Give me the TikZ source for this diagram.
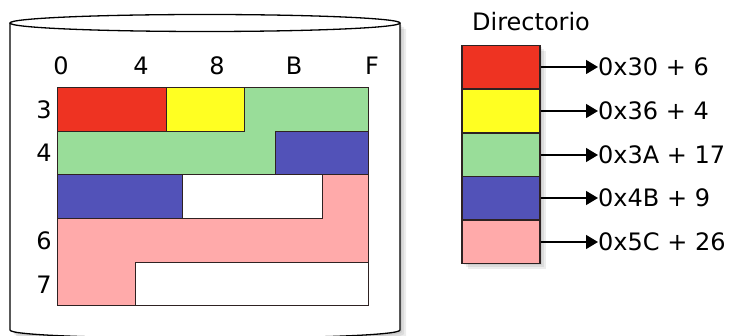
\documentclass[tikz,border=0pt]{standalone}
\usepackage{fontspec}
\setmainfont{DejaVu Sans}
\usetikzlibrary{arrows.meta}
\definecolor{cred}{HTML}{EE3322}
\definecolor{cyel}{HTML}{FFFF22}
\definecolor{cgrn}{HTML}{99DD99}
\definecolor{cblu}{HTML}{5252B8}
\definecolor{cpnk}{HTML}{FFAAAA}
\definecolor{edge}{HTML}{2E2222}
\begin{document}
\begin{tikzpicture}[x=1pt,y=-1pt,
  region/.style={draw=edge, line width=1pt, line join=miter},
  cell/.style={draw=edge, line width=1.2pt, minimum width=78pt, minimum height=43.6pt, inner sep=0pt},
  lbl/.style={font=\fontsize{24}{26}\selectfont, inner sep=0pt},
  ptr/.style={draw=black, line width=1.2pt, -{Triangle[length=12pt,width=14pt]}},
  shadowfill/.style={fill=black, opacity=0.07}]
\useasboundingbox (0,0) rectangle (732,336);
% cylinder shadow
\foreach \d in {2,4,6}{
  \fill[shadowfill] (10+\d,23+\d) -- (10+\d,330+\d) .. controls (10+\d,341+\d) and (400+\d,341+\d) .. (400+\d,330+\d) -- (400+\d,23+\d) -- cycle;
}
% cylinder body
\filldraw[fill=white, draw=black, line width=1.3pt] (10,23) -- (10,330) .. controls (10,341) and (400,341) .. (400,330) -- (400,23);
\draw[fill=white, line width=1.3pt] (205,23) ellipse [x radius=195, y radius=8.5];
% grid regions
\filldraw[region, fill=cred] (57,88) rectangle (166,132);
\filldraw[region, fill=cyel] (166,88) rectangle (244,132);
\filldraw[region, fill=cgrn] (244,88) -- (368,88) -- (368,132) -- (275,132) -- (275,175) -- (57,175) -- (57,132) -- (244,132) -- cycle;
\filldraw[region, fill=cblu] (275,132) rectangle (368,175);
\filldraw[region, fill=cblu] (57,175) rectangle (182,219);
\filldraw[region, fill=white] (182,175) rectangle (322,219);
\filldraw[region, fill=cpnk] (322,175) -- (368,175) -- (368,263) -- (135,263) -- (135,306) -- (57,306) -- (57,219) -- (322,219) -- cycle;
\filldraw[region, fill=white] (135,263) rectangle (368,306);
% column labels
\node[lbl] (c0) at (61,66) {0};
\node[lbl] (c4) at (141,66) {4};
\node[lbl] (c8) at (217,66) {8};
\node[lbl] (cB) at (294,66) {B};
\node[lbl] (cF) at (372,66) {F};
% row labels
\node[lbl] (r3) at (44,110) {3};
\node[lbl] (r4) at (44,153) {4};
\node[lbl] (r6) at (44,241) {6};
\node[lbl] (r7) at (44,285) {7};
% directory
\node[lbl] (dir) at (531,22) {Directorio};
\foreach \d in {2,4,6}{
  \fill[shadowfill] (462+\d,45+\d) rectangle (540+\d,263+\d);
}
\node[cell, fill=cred] (d1) at (501,67) {};
\node[cell, fill=cyel] (d2) at (501,111) {};
\node[cell, fill=cgrn] (d3) at (501,155) {};
\node[cell, fill=cblu] (d4) at (501,198) {};
\node[cell, fill=cpnk] (d5) at (501,242) {};
\node[lbl, anchor=west] (l1) at (598,67) {0x30 + 6};
\node[lbl, anchor=west] (l2) at (598,111) {0x36 + 4};
\node[lbl, anchor=west] (l3) at (598,155) {0x3A + 17};
\node[lbl, anchor=west] (l4) at (598,198) {0x4B + 9};
\node[lbl, anchor=west] (l5) at (598,242) {0x5C + 26};
\draw[ptr] (d1.east) -- (l1.west);
\draw[ptr] (d2.east) -- (l2.west);
\draw[ptr] (d3.east) -- (l3.west);
\draw[ptr] (d4.east) -- (l4.west);
\draw[ptr] (d5.east) -- (l5.west);
\end{tikzpicture}
\end{document}
